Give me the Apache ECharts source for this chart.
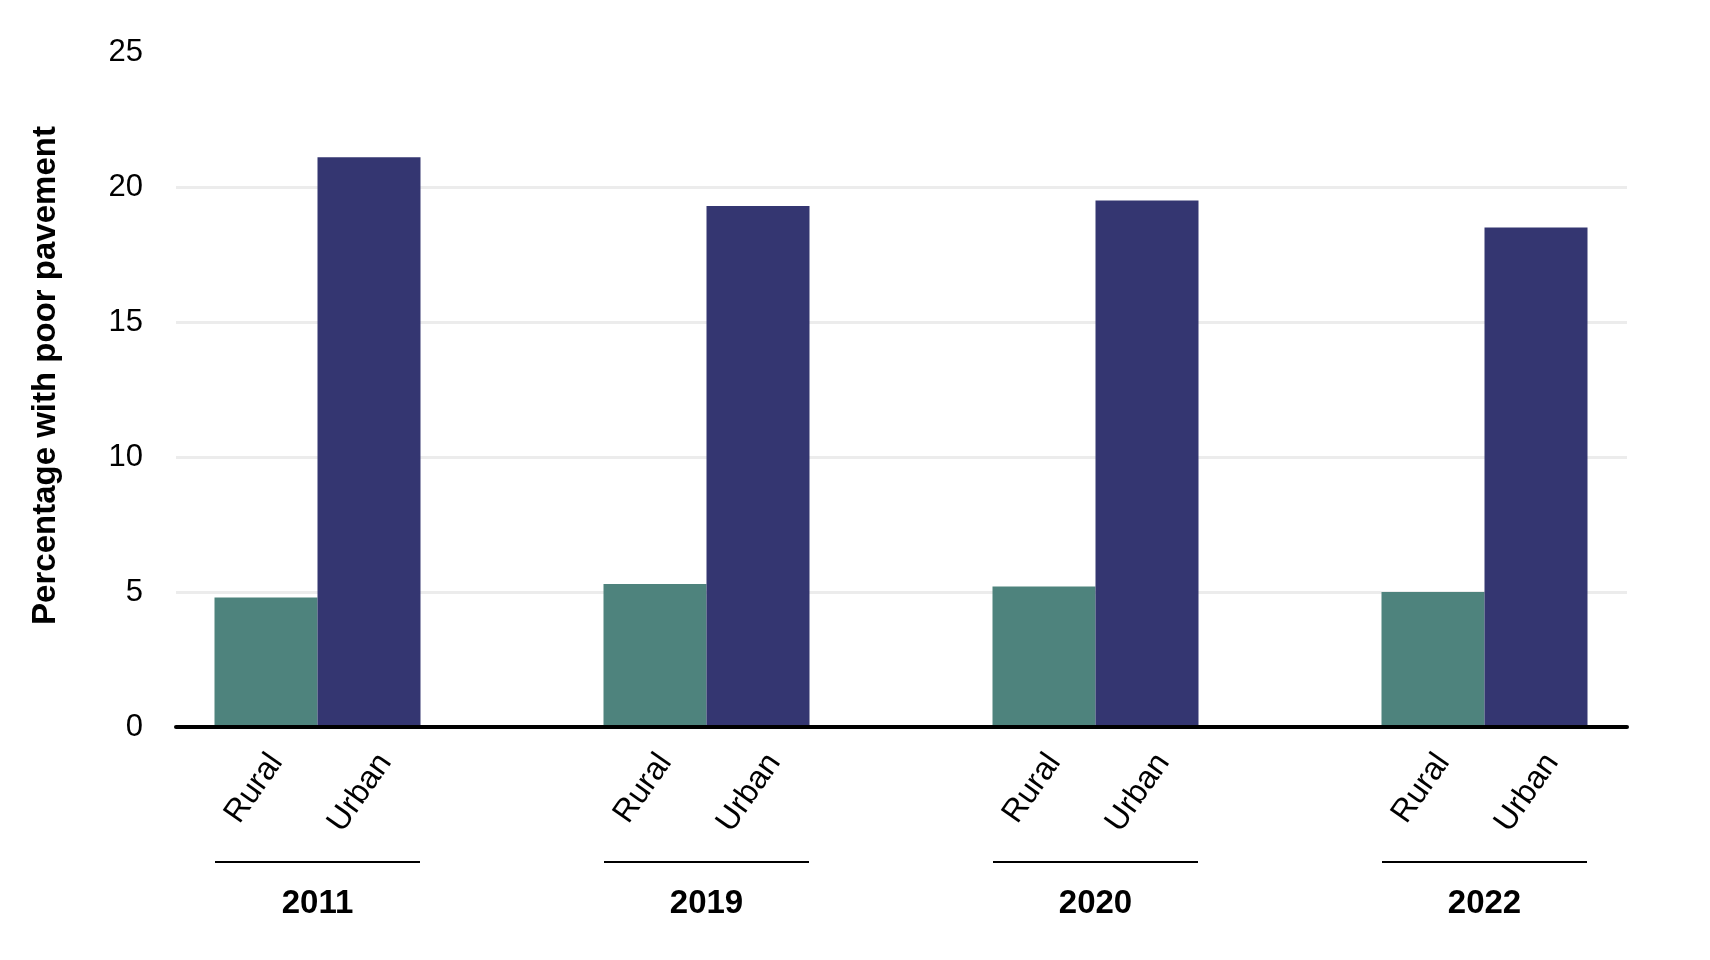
<!DOCTYPE html>
<html>
<head>
<meta charset="utf-8">
<script src="https://cdn.jsdelivr.net/npm/echarts@6/dist/echarts.min.js"></script>
<style>
  html, body { margin: 0; padding: 0; background: #fff; }
  #main { width: 1710px; height: 960px; }
</style>
</head>
<body>
<div id="main"></div>
<script>
// chart data
var years = ['2011', '2019', '2020', '2022'];
var seriesNames = ['Rural', 'Urban'];
var rural = [4.8, 5.3, 5.2, 5.0];
var urban = [21.1, 19.3, 19.5, 18.5];

var FONT = 'Liberation Sans, Arial, sans-serif';

var myChart = echarts.init(document.getElementById('main'));

// label under each bar, rotated, showing the series name
function barLabel(shift) {
    return {
        show: true,
        position: 'bottom',
        distance: 30,
        rotate: 55,
        align: 'right',
        verticalAlign: 'middle',
        offset: [shift * 0.574, shift * 0.819],
        formatter: '{a}',
        fontFamily: FONT,
        fontSize: 32,
        color: '#000'
    };
}

var option = {
    backgroundColor: '#fff',
    animation: false,
    grid: [
        // bars + year labels
        { left: 123, right: 31, top: 52, bottom: 233 },
        // gridlines, y axis, baseline
        { left: 176, right: 83, top: 52, bottom: 233 }
    ],
    xAxis: [
        {
            type: 'category',
            gridIndex: 0,
            data: years,
            axisLine: { show: false },
            axisTick: { show: false },
            axisLabel: {
                margin: 134,
                formatter: function (v) {
                    return '{line| }\n{year|' + v + '}';
                },
                rich: {
                    line: { width: 205, height: 2, lineHeight: 2, backgroundColor: '#000', fontSize: 2 },
                    year: { fontFamily: FONT, fontSize: 33, fontWeight: 'bold', color: '#000', lineHeight: 82 }
                }
            }
        },
        {
            type: 'category',
            gridIndex: 1,
            data: [''],
            z: 5,
            axisLine: { show: true, lineStyle: { color: '#000', width: 4 } },
            axisTick: { show: false },
            axisLabel: { show: false }
        }
    ],
    yAxis: [
        {
            type: 'value',
            gridIndex: 0,
            min: 0,
            max: 25,
            interval: 5,
            show: false
        },
        {
            type: 'value',
            gridIndex: 1,
            min: 0,
            max: 25,
            interval: 5,
            name: 'Percentage with poor pavement',
            nameLocation: 'middle',
            nameGap: 114,
            nameTextStyle: { fontFamily: FONT, fontSize: 33, fontWeight: 'bold', color: '#000', padding: [0, 0, 0, 28] },
            axisLine: { show: false },
            axisTick: { show: false },
            axisLabel: { fontFamily: FONT, fontSize: 31, color: '#000', margin: 33 },
            splitLine: { show: true, showMaxLine: false, showMinLine: false, lineStyle: { color: '#ececec', width: 3 } }
        }
    ],
    series: [
        {
            name: seriesNames[0],
            type: 'bar',
            xAxisIndex: 0,
            yAxisIndex: 0,
            data: rural,
            barWidth: 103,
            barGap: '0%',
            itemStyle: { color: '#4e837d' },
            label: barLabel(10)
        },
        {
            name: seriesNames[1],
            type: 'bar',
            xAxisIndex: 0,
            yAxisIndex: 0,
            data: urban,
            barWidth: 103,
            barGap: '0%',
            itemStyle: { color: '#343671' },
            label: barLabel(16)
        }
    ]
};

myChart.setOption(option);
</script>
</body>
</html>
